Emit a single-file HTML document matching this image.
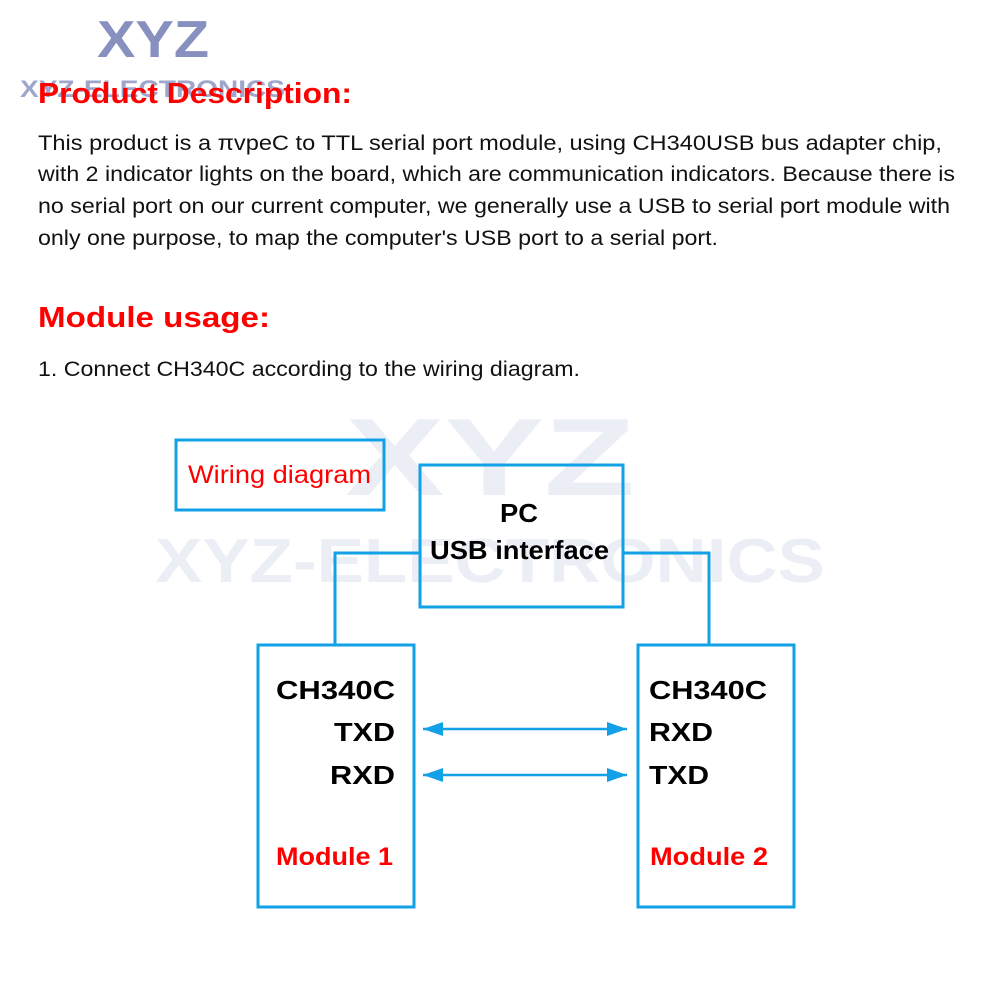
<!DOCTYPE html>
<html><head><meta charset="utf-8"><style>
body{margin:0;background:#fff;width:1000px;height:1000px;overflow:hidden}
svg{display:block}
text{font-family:"Liberation Sans",Arial,sans-serif}
</style></head><body>
<svg width="1000" height="1000" viewBox="0 0 1000 1000" xmlns="http://www.w3.org/2000/svg">
<defs>
<marker id="a" viewBox="0 0 20 14" refX="20" refY="7" markerWidth="20" markerHeight="14" orient="auto-start-reverse" markerUnits="userSpaceOnUse"><path d="M0,0 L20,7 L0,14 z" fill="#12a0e6"/></marker>
</defs>
<text x="97" y="57" font-size="52" font-weight="bold" fill="#8890c0" textLength="112" lengthAdjust="spacingAndGlyphs">XYZ</text>
<text x="20" y="97" font-size="24" font-weight="bold" fill="#8890c0" opacity="0.8" textLength="265" lengthAdjust="spacingAndGlyphs">XYZ-ELECTRONICS</text>
<text x="345" y="495" font-size="110" font-weight="bold" fill="#eceef6" textLength="290" lengthAdjust="spacingAndGlyphs">XYZ</text>
<text x="155" y="582" font-size="62" font-weight="bold" fill="#eceef6" textLength="670" lengthAdjust="spacingAndGlyphs">XYZ-ELECTRONICS</text>

<text x="38" y="103" font-size="29" font-weight="bold" fill="#f00" textLength="314" lengthAdjust="spacingAndGlyphs">Product Description:</text>
<g font-size="21.5" fill="#111">
<text x="38" y="150" textLength="904" lengthAdjust="spacingAndGlyphs">This product is a πvpeC to TTL serial port module, using CH340USB bus adapter chip,</text>
<text x="38" y="181" textLength="917" lengthAdjust="spacingAndGlyphs">with 2 indicator lights on the board, which are communication indicators. Because there is</text>
<text x="38" y="213" textLength="912" lengthAdjust="spacingAndGlyphs">no serial port on our current computer, we generally use a USB to serial port module with</text>
<text x="38" y="245" textLength="680" lengthAdjust="spacingAndGlyphs">only one purpose, to map the computer's USB port to a serial port.</text>
<text x="38" y="376" textLength="542" lengthAdjust="spacingAndGlyphs">1. Connect CH340C according to the wiring diagram.</text>
</g>
<text x="38" y="327" font-size="29" font-weight="bold" fill="#f00" textLength="232" lengthAdjust="spacingAndGlyphs">Module usage:</text>

<g fill="none" stroke="#12a0e6" stroke-width="3">
<rect x="176" y="440" width="208" height="70"/>
<rect x="420" y="465" width="203" height="142"/>
<rect x="258" y="645" width="156" height="262"/>
<rect x="638" y="645" width="156" height="262"/>
<polyline points="335,645 335,553 420,553"/>
<polyline points="623,553 709,553 709,645"/>
<line x1="423" y1="729" x2="627" y2="729" stroke-width="2.5" marker-start="url(#a)" marker-end="url(#a)"/>
<line x1="423" y1="775" x2="627" y2="775" stroke-width="2.5" marker-start="url(#a)" marker-end="url(#a)"/>
</g>
<text x="188" y="483" font-size="25" fill="#f00" textLength="183" lengthAdjust="spacingAndGlyphs">Wiring diagram</text>
<g font-size="26" font-weight="bold" fill="#000">
<text x="500" y="522" textLength="38" lengthAdjust="spacingAndGlyphs">PC</text>
<text x="430" y="559" textLength="179" lengthAdjust="spacingAndGlyphs">USB interface</text>
<text x="276" y="699" textLength="119" lengthAdjust="spacingAndGlyphs">CH340C</text>
<text x="334" y="741" textLength="61" lengthAdjust="spacingAndGlyphs">TXD</text>
<text x="330" y="784" textLength="65" lengthAdjust="spacingAndGlyphs">RXD</text>
<text x="649" y="699" textLength="118" lengthAdjust="spacingAndGlyphs">CH340C</text>
<text x="649" y="741" textLength="64" lengthAdjust="spacingAndGlyphs">RXD</text>
<text x="649" y="784" textLength="60" lengthAdjust="spacingAndGlyphs">TXD</text>
</g>
<g font-size="25" font-weight="bold" fill="#f00">
<text x="276" y="865" textLength="117" lengthAdjust="spacingAndGlyphs">Module 1</text>
<text x="650" y="865" textLength="118" lengthAdjust="spacingAndGlyphs">Module 2</text>
</g>
</svg>
</body></html>
